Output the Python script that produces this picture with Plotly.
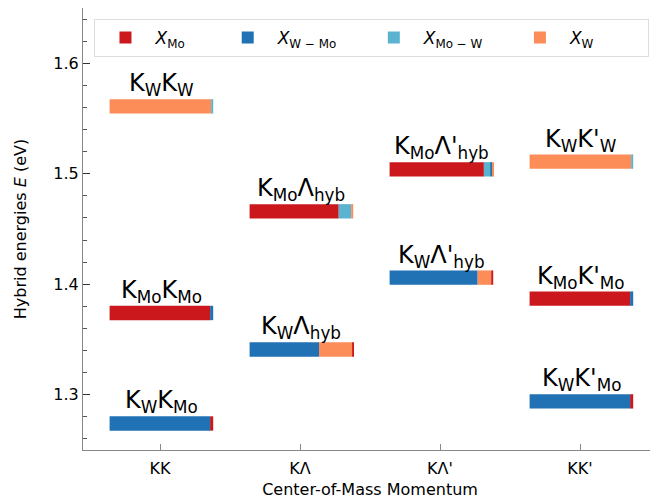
import plotly.graph_objects as go

categories = ["KK", "KΛ", "KΛ'", "KK'"]
cat_pos = [0, 1, 2, 3]

bar_cat = [0, 0, 0, 1, 1, 2, 2, 3, 3, 3]
energies = [1.561, 1.374, 1.274, 1.466, 1.341, 1.504, 1.406, 1.511, 1.387, 1.294]
labels = [
    "K<sub>W</sub>K<sub>W</sub>",
    "K<sub>Mo</sub>K<sub>Mo</sub>",
    "K<sub>W</sub>K<sub>Mo</sub>",
    "K<sub>Mo</sub>Λ<sub>hyb</sub>",
    "K<sub>W</sub>Λ<sub>hyb</sub>",
    "K<sub>Mo</sub>Λ'<sub>hyb</sub>",
    "K<sub>W</sub>Λ'<sub>hyb</sub>",
    "K<sub>W</sub>K'<sub>W</sub>",
    "K<sub>Mo</sub>K'<sub>Mo</sub>",
    "K<sub>W</sub>K'<sub>Mo</sub>",
]

x_mo = [0.00, 0.97, 0.03, 0.86, 0.01, 0.91, 0.02, 0.00, 0.97, 0.03]
x_wmo = [0.00, 0.03, 0.97, 0.00, 0.67, 0.02, 0.85, 0.00, 0.03, 0.97]
x_mow = [0.02, 0.00, 0.00, 0.12, 0.00, 0.06, 0.00, 0.02, 0.00, 0.00]
x_w = [0.98, 0.00, 0.00, 0.02, 0.32, 0.01, 0.13, 0.98, 0.00, 0.00]

PAD = "\u00a0" * 5
comp_names = ["<i>X</i><sub>Mo</sub>" + PAD, "<i>X</i><sub>W − Mo</sub>" + "\u00a0" * 4,
              "<i>X</i><sub>Mo − W</sub>" + "\u00a0" * 4, "<i>X</i><sub>W</sub>" + "\u00a0" * 9]
comp_colors = ["#cb181d", "#2171b5", "#5ab4d0", "#fc8d59"]
components = [x_mo, x_wmo, x_mow, x_w]

BAR_W = 0.74
BAR_LEFT = -0.36
BAR_T = 0.013

# stacking order per bar: descending fraction
bases = [[0.0] * len(energies) for _ in components]
for i in range(len(energies)):
    vals = [c[i] for c in components]
    order = sorted(range(len(vals)), key=lambda k: -vals[k])
    cum = 0.0
    for k in order:
        bases[k][i] = bar_cat[i] + BAR_LEFT + cum * BAR_W
        cum += vals[k]

fig = go.Figure()
for k, comp in enumerate(components):
    fig.add_trace(go.Bar(
        orientation="h",
        y=energies,
        x=[v * BAR_W for v in comp],
        base=bases[k],
        width=BAR_T,
        name=comp_names[k],
        marker=dict(color=comp_colors[k], line=dict(width=0)),
        hoverinfo="skip",
    ))

for i, lab in enumerate(labels):
    fig.add_annotation(
        x=bar_cat[i] + BAR_LEFT + BAR_W / 2, y=energies[i],
        text=lab, showarrow=False, yanchor="bottom", yshift=4,
        font=dict(size=24, color="black", family="DejaVu Sans"),
    )

fig.update_layout(
    width=658, height=502,
    margin=dict(l=75, r=9, t=0, b=60),
    plot_bgcolor="white", paper_bgcolor="white",
    barmode="overlay",
    font=dict(family="DejaVu Sans", size=15, color="black"),
    legend=dict(
        orientation="h", x=0.02, xanchor="left", y=0.975, yanchor="top",
        bgcolor="white", bordercolor="#dddddd", borderwidth=1,
        font=dict(size=17), itemwidth=50,
    ),
    showlegend=True,
)
fig.update_xaxes(
    range=[-0.55, 3.55], tickmode="array", tickvals=cat_pos, ticktext=categories,
    showgrid=False, zeroline=False, showline=True, linecolor="#888888", mirror=True,
    ticks="inside", ticklen=6, tickcolor="#888888", automargin=False,
    ticklabelstandoff=4,
    title=dict(text="Center-of-Mass Momentum", standoff=6, font=dict(size=16)),
    tickfont=dict(size=16),
)
fig.update_yaxes(
    range=[1.25, 1.65], tickvals=[1.3, 1.4, 1.5, 1.6], ticktext=["1.3", "1.4", "1.5", "1.6"],
    showgrid=False, zeroline=False, showline=True, linecolor="#888888", mirror="allticks",
    ticks="inside", ticklen=7, tickcolor="#333333", automargin=False,
    minor=dict(dtick=0.02, tick0=1.3, ticks="inside", ticklen=4, tickcolor="#555555", showgrid=False),
    title=dict(text="Hybrid energies <i>E</i> (eV)", standoff=22, font=dict(size=16)),
    tickfont=dict(size=16),
)

fig.write_html("out.html")
